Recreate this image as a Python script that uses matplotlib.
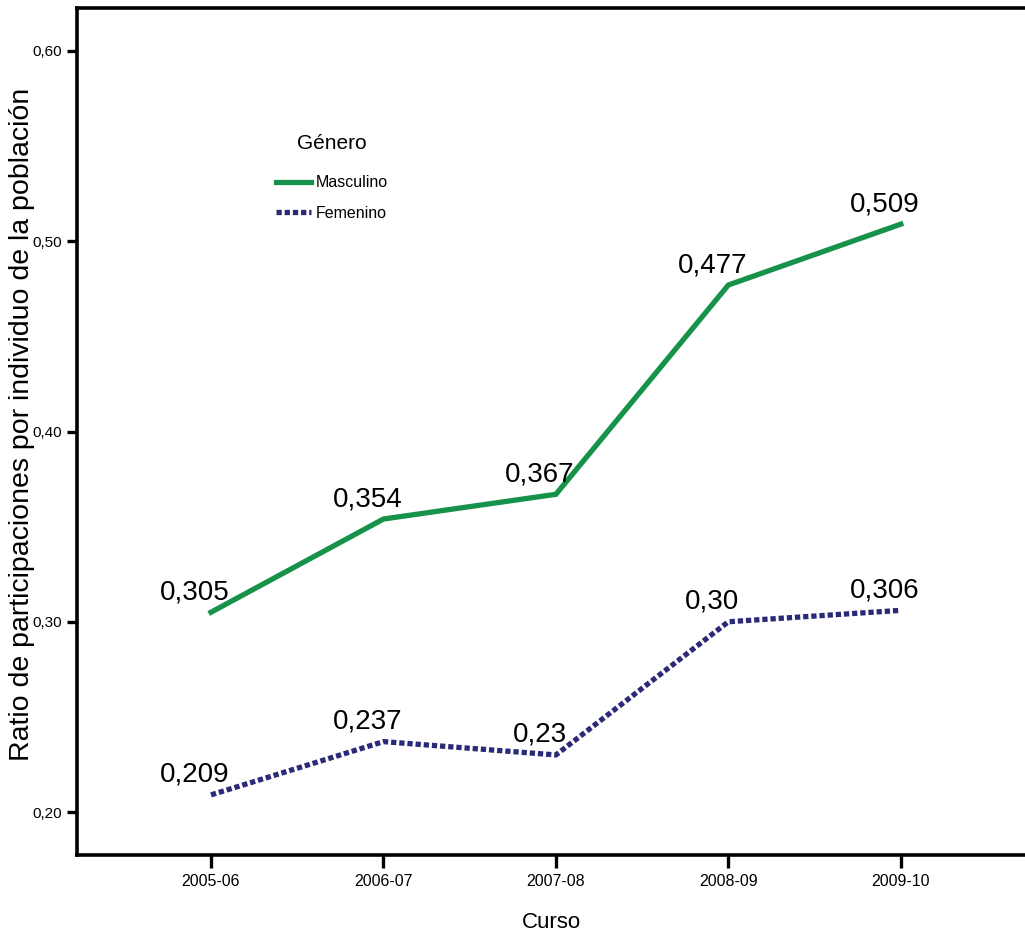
import numpy as np
import matplotlib
matplotlib.use('Agg')
import matplotlib.pyplot as plt

cursos = ['2005-06', '2006-07', '2007-08', '2008-09', '2009-10']
masculino = [0.305, 0.354, 0.367, 0.477, 0.509]
femenino = [0.209, 0.237, 0.230, 0.300, 0.306]
lab_masc = ['0,305', '0,354', '0,367', '0,477', '0,509']
lab_fem = ['0,209', '0,237', '0,23', '0,30', '0,306']
yticks = [0.20, 0.30, 0.40, 0.50, 0.60]
ytick_labels = ['0,20', '0,30', '0,40', '0,50', '0,60']

font = 'Liberation Sans'
green = '#17924a'
navy = '#2b2a78'

fig = plt.figure(figsize=(10.25, 9.33), dpi=100)
ax = fig.add_axes([77/1025, 78/933, 1 - 77/1025, (855-8)/933])

x = np.arange(len(cursos))
ax.plot(x, masculino, color=green, lw=3.8, solid_joinstyle='miter', label='Masculino')
ax.plot(x, femenino, color=navy, lw=3.8, linestyle=(0, (1.0, 0.55)),
        dash_capstyle='butt', label='Femenino')

# etiquetas de valores
for xi, v, t in zip(x, masculino, lab_masc):
    ax.annotate(t, (xi, v), xytext=(-16, 7), textcoords='offset pixels',
                ha='center', va='bottom', fontsize=20, family=font)
for xi, v, t in zip(x, femenino, lab_fem):
    ax.annotate(t, (xi, v), xytext=(-16, 7), textcoords='offset pixels',
                ha='center', va='bottom', fontsize=20, family=font)

ax.set_xlim(-0.777, 4.72)
ax.set_ylim(0.1774, 0.6226)
ax.set_xticks(x)
ax.set_xticklabels(cursos, family=font, fontsize=11.5)
ax.set_yticks(yticks)
ax.set_yticklabels(ytick_labels, family=font, fontsize=11)

for s in ['left', 'bottom', 'top']:
    ax.spines[s].set_linewidth(2.6)
ax.spines['right'].set_visible(False)
ax.tick_params(direction='out', width=2.4)
ax.tick_params(axis='x', length=9, pad=5)
ax.tick_params(axis='y', length=7.5, pad=3)

ax.set_xlabel('Curso', family=font, fontsize=16, labelpad=16)
ax.set_ylabel('Ratio de participaciones por individuo de la población',
              family=font, fontsize=20.5)
ax.yaxis.set_label_coords(-0.044, 0.508)

leg = ax.legend(loc='upper left', bbox_to_anchor=(0.195, 0.868), frameon=False,
                title='Género', handlelength=2.2, handletextpad=0.3,
                labelspacing=0.95, prop={'family': font, 'size': 11.5})
leg.get_title().set_fontfamily(font)
leg.get_title().set_fontsize(15)
leg._legend_box.sep = 16

fig.savefig('out.png', dpi=100)
